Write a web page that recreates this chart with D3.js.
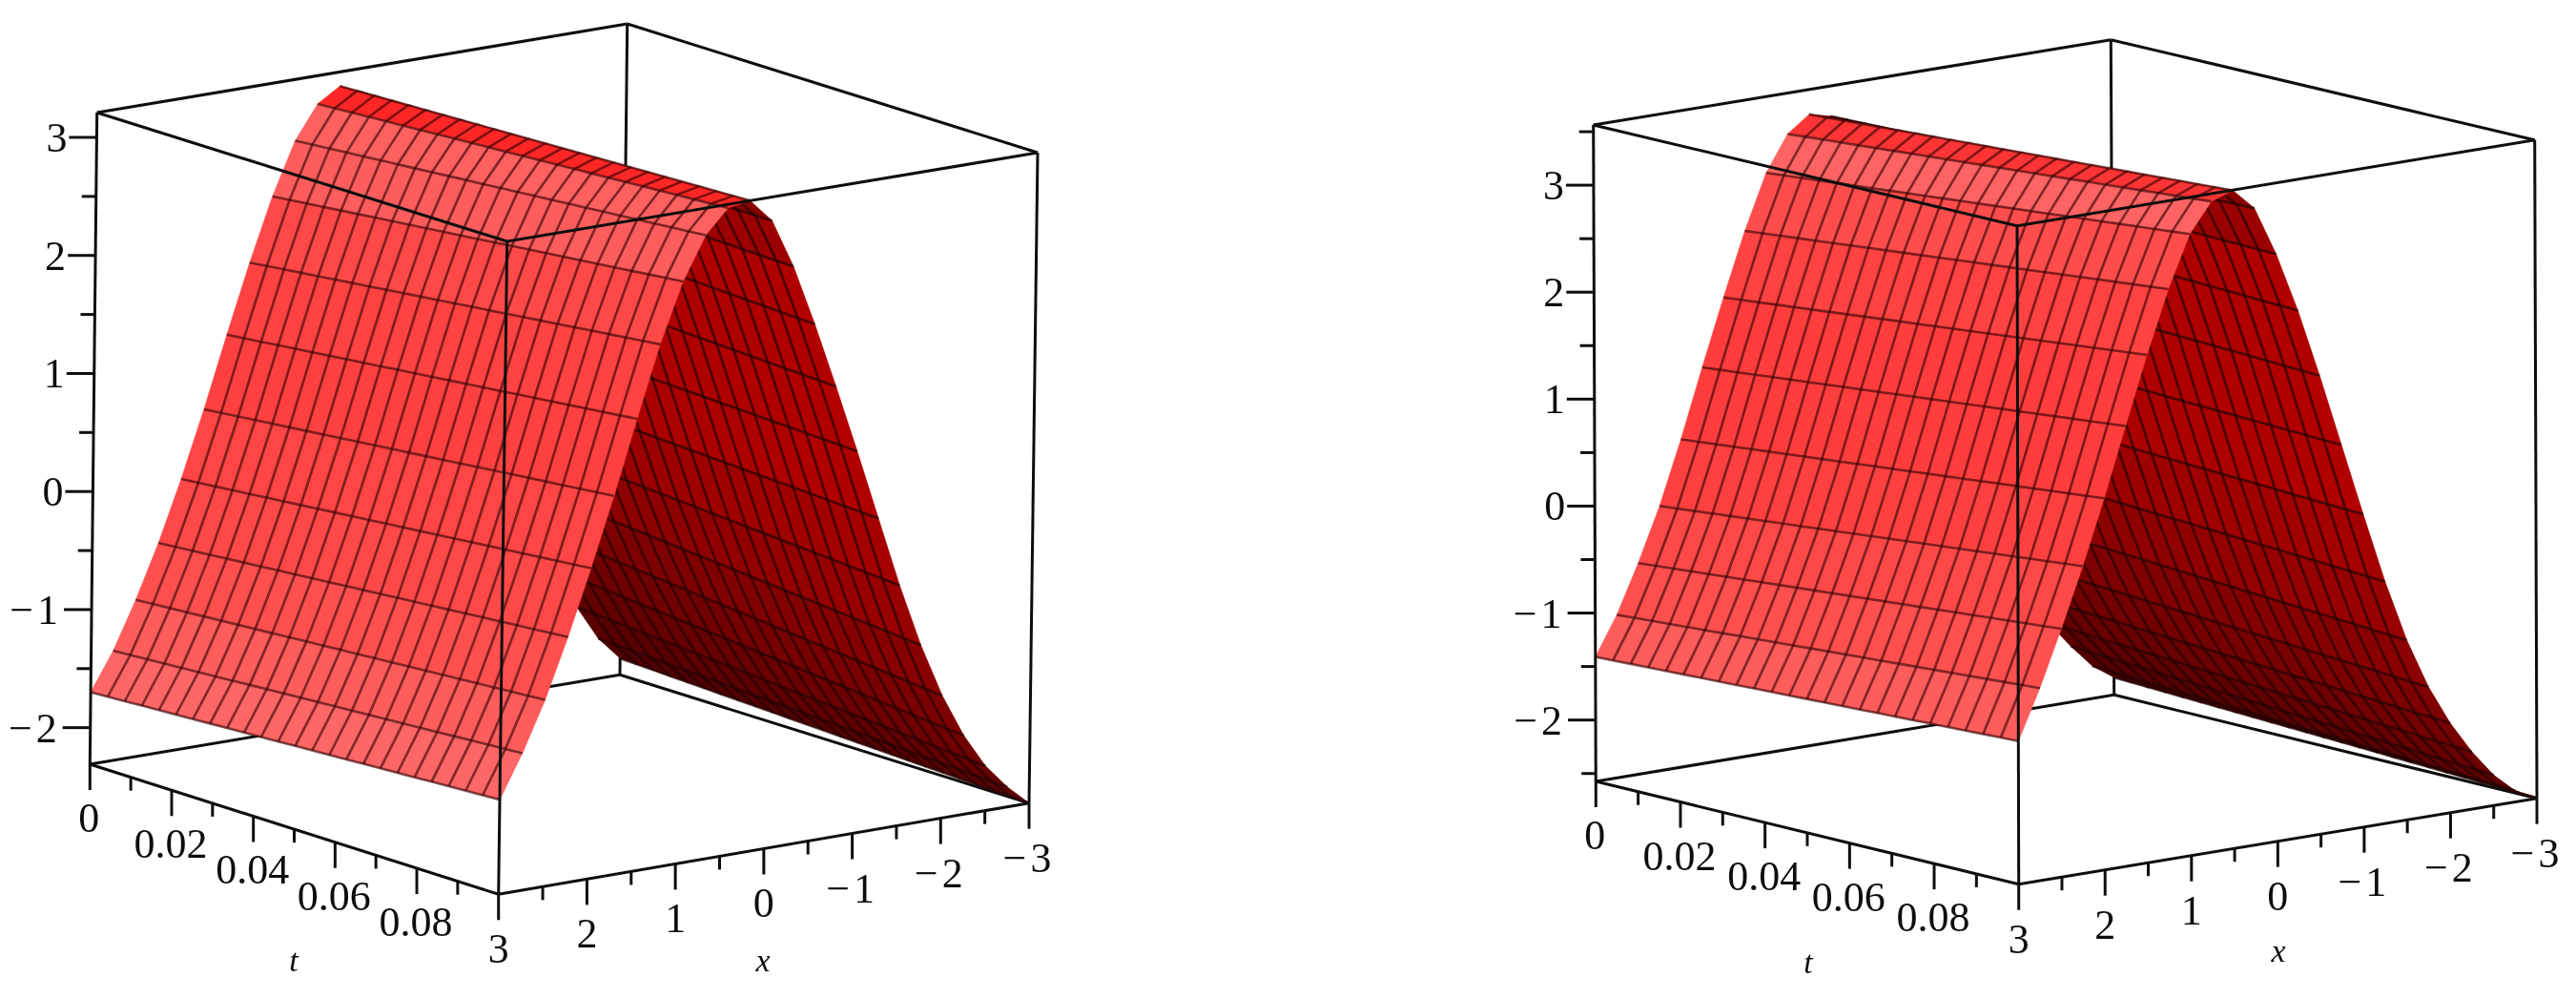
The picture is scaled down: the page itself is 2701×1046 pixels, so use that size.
<!DOCTYPE html>
<html>
<head>
<meta charset="utf-8">
<style>
  html, body { margin: 0; padding: 0; background: #fff; }
  text { font-family: "Liberation Serif", serif; fill: #111; }
</style>
<script src="https://cdn.jsdelivr.net/npm/d3@7"></script>
</head>
<body>
<div id="chart"></div>
<script>
// x grid of the mesh
var xValues = [-3,-2.75,-2.5,-2.25,-2,-1.75,-1.5,-1.25,-1,-0.75,-0.5,-0.25,0,0.25,0.5,0.75,1,1.25,1.5,1.75,2,2.25,2.5,2.75,3];
var tRange = [0, 0.1];
var tCells = 24;

// surface height along x, at t=0 and at t=0.1
var leftAtStart = [-2.17,-1.97,-1.67,-1.32,-0.93,-0.5,-0.03,0.5,1.07,1.66,2.22,2.68,3.0,3.09,2.97,2.69,2.25,1.72,1.14,0.54,-0.02,-0.53,-0.98,-1.38,-1.7];
var leftAtEnd = [-2.31,-2.14,-1.93,-1.64,-1.27,-0.81,-0.27,0.33,0.93,1.51,2.07,2.59,3.01,3.21,3.18,2.98,2.62,2.12,1.52,0.9,0.32,-0.23,-0.73,-1.15,-1.51];
var rightAtStart = [-2.41,-2.27,-2.05,-1.8,-1.5,-1.12,-0.65,-0.1,0.52,1.17,1.87,2.5,3.0,3.28,3.33,3.18,2.85,2.34,1.75,1.13,0.49,-0.1,-0.6,-1.05,-1.41];
var rightAtEnd = [-2.57,-2.47,-2.29,-2.04,-1.74,-1.37,-0.9,-0.32,0.34,1.02,1.7,2.34,2.9,3.36,3.56,3.49,3.22,2.74,2.16,1.53,0.89,0.29,-0.26,-0.78,-1.24];

// z range of each box
var leftZRange = [-2.31, 3.21];
var rightZRange = [-2.574, 3.563];

// ticks and labels
var zMajorTicks = [-2,-1,0,1,2,3];
var zMinorTicks = [-2.5,-1.5,-0.5,0.5,1.5,2.5,3.5];
var tMajorTicks = [0,0.02,0.04,0.06,0.08];
var tMinorTicks = [0.01,0.03,0.05,0.07,0.09];
var tTickLabels = ["0","0.02","0.04","0.06","0.08"];
var xMajorTicks = [3,2,1,0,-1,-2,-3];
var xMinorTicks = [2.5,1.5,0.5,-0.5,-1.5,-2.5];
var xTickLabels = ["3","2","1","0","\u22121","\u22122","\u22123"];

var width = 2701, height = 1046;

var svg = d3.select("#chart").append("svg")
  .attr("width", width)
  .attr("height", height)
  .style("display", "block");

// the reference is a soft upscaled bitmap
svg.append("defs").append("filter")
  .attr("id", "soft")
  .attr("filterUnits", "userSpaceOnUse")
  .attr("x", 0).attr("y", 0).attr("width", width).attr("height", height)
  .append("feGaussianBlur")
  .attr("stdDeviation", 0.65);

var root = svg.append("g").attr("filter", "url(#soft)");

function drawPanel(args) {
  // args:
  // corners: box corners in pixels
  // zRange, atStart, atEnd
  // tLabelPos, xLabelPos
  var g = root.append("g");
  var c = args.corners;

  var xScale = d3.scaleLinear().domain([3, -3]).range([0, 1]);
  var tScale = d3.scaleLinear().domain(tRange).range([0, 1]);
  var zScale = d3.scaleLinear().domain(args.zRange).range([0, 1]);

  function lerp(a, b, f) {
    return [a[0] + (b[0] - a[0]) * f, a[1] + (b[1] - a[1]) * f];
  }

  // position inside the slightly non parallel box
  function project(x, t, z) {
    var u = xScale(x), v = tScale(t), w = zScale(z);
    var lower = lerp(lerp(c.t0Bottom, c.backBottom, u), lerp(c.frontBottom, c.rightBottom, u), v);
    var upper = lerp(lerp(c.t0Top, c.backTop, u), lerp(c.frontTop, c.rightTop, u), v);
    return lerp(lower, upper, w);
  }

  function heightAt(i, t) {
    return d3.scaleLinear().domain(tRange).range([args.atStart[i], args.atEnd[i]])(t);
  }

  var line = d3.line();
  var tGrid = d3.range(tCells + 1).map(function (k) { return tRange[1] * k / tCells; });

  var lightFill = d3.scaleLinear()
    .domain([0, 0.4, 0.9, 1.4, 2, 2.5])
    .range(["#ff0c0c", "#ff3030", "#ff6060", "#ff6666", "#ff4c4c", "#ff3e3e"])
    .clamp(true);

  var darkFill = d3.scaleLinear()
    .domain([0, 0.1, 0.3, 0.55, 0.85, 0.95, 1])
    .range(["#5a0000", "#740000", "#980000", "#b40000", "#b00000", "#960000", "#800000"])
    .clamp(true);

  function box(a, b) {
    g.append("path")
      .attr("d", line([a, b]))
      .attr("fill", "none")
      .attr("stroke", "#111")
      .attr("stroke-width", 3);
  }

  // back of the box goes under the surface
  box(c.t0Top, c.backTop);
  box(c.backTop, c.rightTop);
  box(c.backTop, c.backBottom);
  box(c.t0Bottom, c.backBottom);
  box(c.backBottom, c.rightBottom);

  function drawCells(isDark) {
    var fills = g.append("g");
    var mesh = g.append("g");
    d3.range(xValues.length - 1).forEach(function (i) {
      var slope = (heightAt(i + 1, tRange[1] / 2) - heightAt(i, tRange[1] / 2)) / (xValues[i + 1] - xValues[i]);
      if ((slope > 0) !== isDark) return;
      d3.range(tCells).forEach(function (k) {
        var t0 = tGrid[k], t1 = tGrid[k + 1];
        var p00 = project(xValues[i], t0, heightAt(i, t0));
        var p10 = project(xValues[i + 1], t0, heightAt(i + 1, t0));
        var p11 = project(xValues[i + 1], t1, heightAt(i + 1, t1));
        var p01 = project(xValues[i], t1, heightAt(i, t1));
        var fill;
        if (isDark) {
          var h = zScale((args.atEnd[i] + args.atEnd[i + 1]) / 2);
          fill = d3.color(darkFill(h)).darker(0.5 * (1 - tScale(t0)) * (1 - h)).formatRgb();
        } else {
          fill = lightFill(Math.abs(slope));
        }
        fills.append("path")
          .attr("d", line([p00, p10, p11, p01]) + "Z")
          .attr("fill", fill)
          .attr("stroke", fill)
          .attr("stroke-width", 0.6);

        // each mesh line once, and no line along the t=0 and t=0.1 outlines
        var edges = [[p00, p01]];
        if (k > 0) edges.push([p00, p10]);
        if (i === xValues.length - 2) edges.push([p10, p11]);
        edges.forEach(function (e) {
          mesh.append("path")
            .attr("d", line(e))
            .attr("fill", "none")
            .attr("stroke", isDark ? "#240000" : "#300404")
            .attr("stroke-opacity", isDark ? 0.72 : 0.62)
            .attr("stroke-width", 2.6);
        });
      });
    });
  }

  drawCells(true);
  drawCells(false);

  // front of the box goes over it
  box(c.t0Top, c.frontTop);
  box(c.frontTop, c.rightTop);
  box(c.frontTop, c.frontBottom);
  box(c.t0Top, c.t0Bottom);
  box(c.rightTop, c.rightBottom);
  box(c.t0Bottom, c.frontBottom);
  box(c.frontBottom, c.rightBottom);

  function tick(p, dx, dy) {
    g.append("path")
      .attr("d", line([p, [p[0] + dx, p[1] + dy]]))
      .attr("fill", "none")
      .attr("stroke", "#111")
      .attr("stroke-width", 3);
  }

  function label(text, px, py, anchor) {
    g.append("text")
      .attr("x", px)
      .attr("y", py)
      .attr("dy", "0.34em")
      .attr("text-anchor", anchor || "middle")
      .attr("font-size", 44)
      .style("letter-spacing", text.charAt(0) === "\u2212" ? "4px" : null)
      .text(text);
  }

  // z axis on the left vertical
  zMajorTicks.forEach(function (z) {
    var p = project(3, 0, z);
    tick(p, -29, 0);
    label(z < 0 ? "\u2212" + (-z) : String(z), p[0] - 31, p[1], "end");
  });
  zMinorTicks.filter(function (z) { return z > args.zRange[0] && z < args.zRange[1]; })
    .forEach(function (z) {
      tick(project(3, 0, z), -15, 0);
    });

  // t axis
  tMajorTicks.forEach(function (t, i) {
    var p = project(3, t, args.zRange[0]);
    tick(p, 0, 27);
    label(tTickLabels[i], p[0] - 1, p[1] + 56);
  });
  tMinorTicks.forEach(function (t) {
    tick(project(3, t, args.zRange[0]), 0, 14);
  });

  // x axis
  xMajorTicks.forEach(function (x, i) {
    var p = project(x, tRange[1], args.zRange[0]);
    tick(p, 0, 27);
    label(xTickLabels[i], p[0], p[1] + 57);
  });
  xMinorTicks.forEach(function (x) {
    tick(project(x, tRange[1], args.zRange[0]), 0, 14);
  });

  // axis names
  [["t", args.tLabelPos], ["x", args.xLabelPos]].forEach(function (d) {
    g.append("text")
      .attr("x", d[1][0])
      .attr("y", d[1][1])
      .attr("dy", "0.3em")
      .attr("text-anchor", "middle")
      .attr("font-size", 34)
      .attr("font-style", "italic")
      .text(d[0]);
  });
}

drawPanel({
  corners: {
    t0Top: [101.7, 118], frontTop: [531.7, 253], backTop: [657.7, 25], rightTop: [1088, 160],
    t0Bottom: [94.3, 801], frontBottom: [522.7, 937.3], backBottom: [650, 707.3], rightBottom: [1079, 841.7]
  },
  zRange: leftZRange,
  atStart: leftAtStart,
  atEnd: leftAtEnd,
  tLabelPos: [308, 1008],
  xLabelPos: [800, 1008]
});

drawPanel({
  corners: {
    t0Top: [1670.7, 131], frontTop: [2115, 236.7], backTop: [2213.3, 41.7], rightTop: [2657.7, 146.7],
    t0Bottom: [1673.3, 819], frontBottom: [2116.7, 926.7], backBottom: [2216.7, 728.3], rightBottom: [2660, 836.7]
  },
  zRange: rightZRange,
  atStart: rightAtStart,
  atEnd: rightAtEnd,
  tLabelPos: [1896, 1010],
  xLabelPos: [2389, 998]
});
</script>
</body>
</html>
